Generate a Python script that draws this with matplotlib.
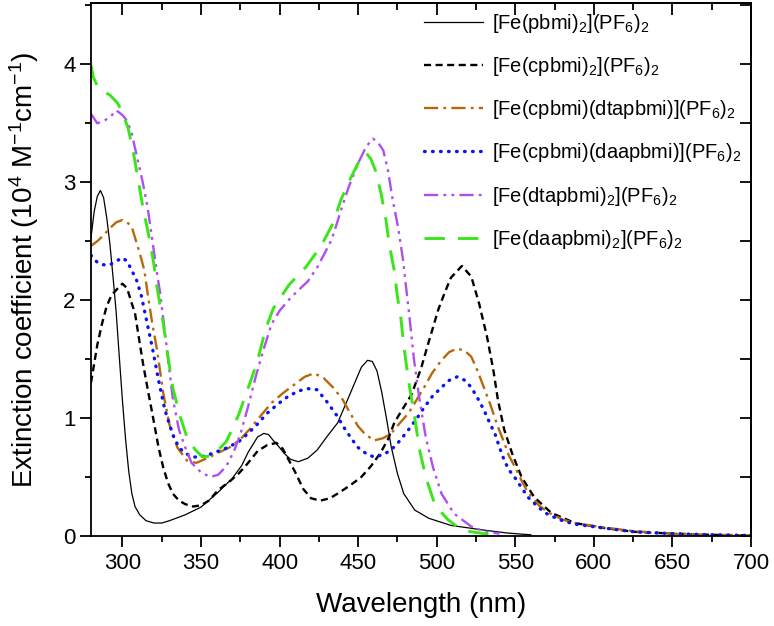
import matplotlib
matplotlib.use("Agg")
import matplotlib.pyplot as plt
from matplotlib.ticker import MultipleLocator

plt.rcParams['font.family'] = ['Liberation Sans', 'DejaVu Sans']
plt.rcParams['mathtext.fontset'] = 'custom'
plt.rcParams['mathtext.rm'] = 'Liberation Sans'
plt.rcParams['mathtext.it'] = 'Liberation Sans:italic'
plt.rcParams['mathtext.bf'] = 'Liberation Sans:bold'

# ---- data (wavelength nm, extinction coefficient 10^4 M^-1 cm^-1) ----
wl_pbmi = [280, 282, 284, 286, 288, 290, 292, 294, 296, 298, 300, 302, 304, 306, 308, 311, 315,
           320, 325, 330, 340, 350, 360, 370, 376, 380, 386, 390, 393, 396, 400, 403, 407, 412,
           418, 424, 430, 437, 445, 452, 456, 459, 462, 465, 468, 471, 475, 479, 486, 495, 509,
           530, 545, 560]
ep_pbmi = [2.53, 2.75, 2.88, 2.93, 2.87, 2.70, 2.48, 2.20, 1.90, 1.52, 1.15, 0.82, 0.55, 0.36,
           0.25, 0.18, 0.13, 0.11, 0.11, 0.13, 0.18, 0.245, 0.36, 0.49, 0.60, 0.71, 0.84, 0.87,
           0.86, 0.81, 0.75, 0.70, 0.65, 0.63, 0.66, 0.73, 0.84, 0.96, 1.21, 1.43, 1.49, 1.48,
           1.40, 1.22, 1.00, 0.76, 0.53, 0.36, 0.22, 0.15, 0.09, 0.05, 0.025, 0.01]

wl_cpbmi = [280, 284, 287, 290, 293, 297, 300, 303, 306, 308, 310, 313, 316, 319, 323, 326, 329,
            332, 336, 340, 345, 350, 355, 361, 368, 374, 380, 386, 392, 398, 402, 406, 410, 415,
            420, 426, 432, 437, 445, 452, 458, 464, 469, 473, 478, 484, 490, 495, 501, 505, 509,
            516, 522, 527, 532, 536, 539, 543, 548, 554, 562, 573, 588, 605, 626, 650, 675, 700]
ep_cpbmi = [1.30, 1.62, 1.80, 1.95, 2.04, 2.10, 2.14, 2.10, 1.97, 1.89, 1.72, 1.47, 1.25, 1.04,
            0.75, 0.58, 0.45, 0.36, 0.30, 0.27, 0.25, 0.26, 0.30, 0.39, 0.46, 0.53, 0.62, 0.72,
            0.77, 0.79, 0.74, 0.64, 0.54, 0.40, 0.32, 0.30, 0.32, 0.36, 0.43, 0.50, 0.59, 0.70,
            0.82, 0.96, 1.07, 1.20, 1.42, 1.65, 1.92, 2.06, 2.19, 2.29, 2.20, 1.97, 1.69, 1.41,
            1.15, 0.90, 0.70, 0.50, 0.33, 0.195, 0.11, 0.07, 0.035, 0.02, 0.01, 0.005]

wl_dta = [280, 284, 288, 292, 296, 300, 303, 306, 308, 311, 314, 316, 319, 322, 326, 330, 335,
          341, 347, 354, 360, 368, 375, 382, 388, 395, 402, 410, 416, 422, 428, 434, 440, 445,
          450, 454, 460, 466, 471, 476, 482, 487, 492, 497, 503, 508, 513, 518, 522, 526, 530,
          534, 537, 540, 543, 546, 550, 554, 558, 565, 571, 580, 588, 605, 626, 650, 675, 700]
ep_dta = [2.46, 2.50, 2.55, 2.61, 2.66, 2.68, 2.66, 2.62, 2.53, 2.40, 2.25, 2.06, 1.80, 1.58,
          1.21, 0.94, 0.75, 0.64, 0.62, 0.66, 0.70, 0.75, 0.82, 0.92, 1.02, 1.13, 1.21, 1.29,
          1.35, 1.38, 1.34, 1.26, 1.16, 1.04, 0.93, 0.87, 0.81, 0.83, 0.87, 0.95, 1.04, 1.15,
          1.26, 1.38, 1.49, 1.56, 1.59, 1.57, 1.52, 1.40, 1.26, 1.12, 1.00, 0.89, 0.79, 0.68,
          0.58, 0.47, 0.37, 0.26, 0.20, 0.14, 0.11, 0.075, 0.04, 0.02, 0.01, 0.005]

wl_daa = [280, 284, 288, 292, 296, 300, 303, 306, 309, 312, 315, 319, 323, 327, 332, 336, 340,
          345, 350, 355, 361, 367, 374, 380, 386, 392, 399, 405, 412, 418, 424, 430, 436, 441,
          446, 450, 455, 460, 466, 471, 476, 482, 487, 492, 497, 503, 508, 513, 518, 522, 526,
          530, 534, 537, 540, 543, 546, 550, 554, 558, 565, 571, 580, 588, 605, 626, 650, 675, 700]
ep_daa = [2.38, 2.32, 2.30, 2.30, 2.33, 2.36, 2.33, 2.25, 2.17, 2.04, 1.85, 1.60, 1.32, 1.07,
          0.86, 0.75, 0.70, 0.67, 0.67, 0.69, 0.72, 0.75, 0.80, 0.87, 0.95, 1.04, 1.12, 1.18,
          1.23, 1.25, 1.24, 1.14, 1.03, 0.92, 0.82, 0.75, 0.70, 0.67, 0.69, 0.73, 0.80, 0.90,
          0.99, 1.09, 1.18, 1.26, 1.32, 1.35, 1.32, 1.26, 1.17, 1.07, 0.95, 0.87, 0.75, 0.64,
          0.56, 0.49, 0.41, 0.33, 0.24, 0.18, 0.13, 0.10, 0.07, 0.035, 0.02, 0.01, 0.005]

wl_dta2 = [280, 284, 288, 292, 296, 300, 303, 306, 309, 312.6, 316, 319, 322, 324, 328, 332, 336,
           340, 344, 350, 356, 361, 366, 371, 375, 380, 385, 390, 395, 400, 407, 414, 418, 424,
           428, 433, 436, 439, 444, 450, 455, 459.4, 463, 466, 469, 472, 475.4, 478.6, 480.5,
           482.4, 485.6, 488.8, 493, 497.7, 503, 511, 522, 530, 540]
ep_dta2 = [3.58, 3.50, 3.52, 3.55, 3.61, 3.57, 3.52, 3.41, 3.23, 3.02, 2.79, 2.51, 2.23, 2.06,
           1.62, 1.17, 0.90, 0.75, 0.62, 0.54, 0.50, 0.52, 0.59, 0.72, 0.86, 1.10, 1.36, 1.59,
           1.80, 1.91, 2.02, 2.11, 2.16, 2.28, 2.38, 2.51, 2.63, 2.76, 2.96, 3.16, 3.30, 3.37,
           3.33, 3.27, 3.10, 2.85, 2.62, 2.34, 2.11, 1.89, 1.49, 1.18, 0.84, 0.58, 0.36, 0.19,
           0.08, 0.04, 0.02]

wl_daa2 = [280, 281.5, 285, 292, 297, 300, 303.6, 307, 310, 313, 316.4, 319.6, 322, 326, 329, 332,
           336.8, 341, 346.4, 351, 357, 361, 366, 370, 374, 378, 382.8, 386.6, 391, 396, 401, 406,
           411, 416.7, 421, 426, 430, 434, 439, 445.4, 451.8, 455, 458, 461, 464.5, 467.7, 469.7,
           473, 475, 477, 479, 482, 485.6, 488.8, 493, 498, 503, 507, 513, 520, 530, 540]
ep_daa2 = [3.99, 3.89, 3.79, 3.74, 3.67, 3.59, 3.46, 3.25, 3.02, 2.79, 2.57, 2.34, 2.11, 1.80,
           1.52, 1.26, 1.01, 0.84, 0.73, 0.67, 0.68, 0.73, 0.80, 0.91, 1.03, 1.18, 1.36, 1.52,
           1.75, 1.93, 2.03, 2.13, 2.20, 2.28, 2.36, 2.45, 2.55, 2.65, 2.85, 3.04, 3.21, 3.25,
           3.20, 3.10, 2.91, 2.68, 2.48, 2.25, 2.03, 1.87, 1.62, 1.32, 1.04, 0.75, 0.50, 0.30,
           0.20, 0.14, 0.08, 0.04, 0.02, 0.01]

labels = [r'[Fe(pbmi)$_2$](PF$_6$)$_2$',
          r'[Fe(cpbmi)$_2$](PF$_6$)$_2$',
          r'[Fe(cpbmi)(dtapbmi)](PF$_6$)$_2$',
          r'[Fe(cpbmi)(daapbmi)](PF$_6$)$_2$',
          r'[Fe(dtapbmi)$_2$](PF$_6$)$_2$',
          r'[Fe(daapbmi)$_2$](PF$_6$)$_2$']

xticks = [300, 350, 400, 450, 500, 550, 600, 650, 700]
yticks = [0, 1, 2, 3, 4]

# ---- figure ----
fig = plt.figure(figsize=(7.74, 6.26), dpi=100)
ax = fig.add_axes([91/774, 90/626, 660/774, 533/626])

ax.plot(wl_pbmi, ep_pbmi, color='black', lw=0.9, label=labels[0])
ax.plot(wl_cpbmi, ep_cpbmi, color='black', lw=1.7, dashes=(3.0, 1.9), label=labels[1])
ax.plot(wl_dta, ep_dta, color='#B8680A', lw=1.7, dashes=(6.0, 2.2, 1.2, 2.2), label=labels[2])
ax.plot(wl_daa, ep_daa, color='#0A14F0', lw=2.4, dashes=(0.2, 2.2),
        dash_capstyle='round', label=labels[3])
ax.plot(wl_dta2, ep_dta2, color='#B04FF0', lw=1.7,
        dashes=(6.0, 2.2, 1.2, 2.2, 1.2, 2.2), label=labels[4])
ax.plot(wl_daa2, ep_daa2, color='#3AE61A', lw=2.1, dashes=(7.0, 4.5), label=labels[5])

ax.set_xlim(280, 700)
ax.set_ylim(0, 4.52)
ax.set_xticks(xticks)
ax.set_yticks(yticks)
ax.xaxis.set_minor_locator(MultipleLocator(25))
ax.yaxis.set_minor_locator(MultipleLocator(0.5))

for s in ax.spines.values():
    s.set_linewidth(1.3)

ax.tick_params(axis='both', which='major', direction='out', length=8, width=1.3,
               labelsize=16, top=False, right=False)
ax.tick_params(axis='both', which='minor', direction='out', length=4.3, width=1.3,
               top=False, right=False)
ax.tick_params(axis='x', which='major', pad=4)
ax.tick_params(axis='y', which='major', pad=3)

# top and right ticks pointing inward
secx = ax.secondary_xaxis('top')
secx.set_xticks(xticks)
secx.xaxis.set_minor_locator(MultipleLocator(25))
secx.tick_params(which='major', direction='in', length=8.5, width=1.3, labeltop=False)
secx.tick_params(which='minor', direction='in', length=5, width=1.3)
secx.spines['top'].set_linewidth(1.3)
secy = ax.secondary_yaxis('right')
secy.yaxis.set_major_locator(MultipleLocator(0.5))
secy.tick_params(which='major', direction='in', length=8, width=1.3, labelright=False)
secy.spines['right'].set_linewidth(1.3)

ax.set_xlabel('Wavelength (nm)', fontsize=20, labelpad=13)
ax.set_ylabel(r'Extinction coefficient (10$^{4}$ M$^{-1}$cm$^{-1}$)', fontsize=20, labelpad=16)

leg = ax.legend(loc='upper left', bbox_to_anchor=(0.491, 1.0), frameon=False, fontsize=14.5,
                handlelength=2.9, handletextpad=0.45, labelspacing=1.0, borderpad=0.45,
                borderaxespad=0.0)

fig.savefig('out.png', dpi=100)
